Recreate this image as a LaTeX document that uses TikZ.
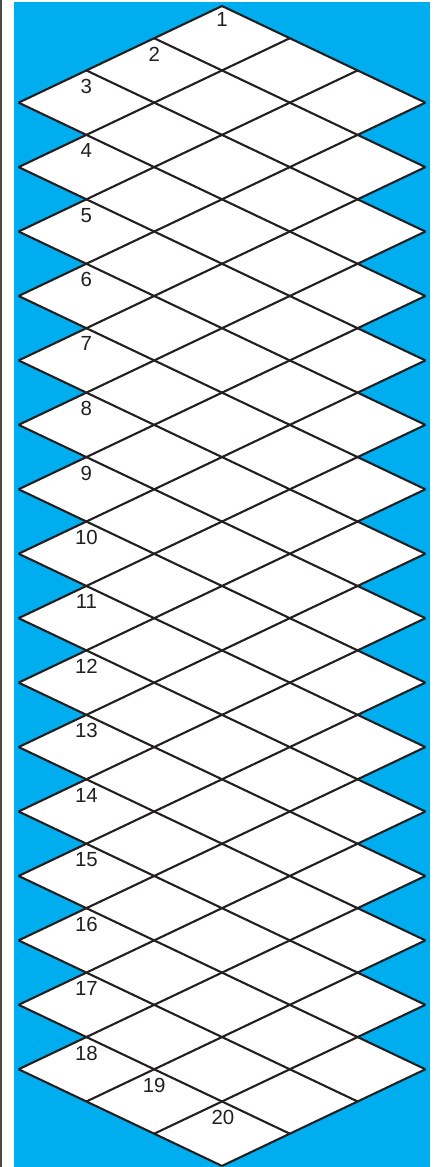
\documentclass[tikz,border=0pt]{standalone}
\usepackage{fontspec}
\setmainfont{Liberation Sans}
\definecolor{skyblue}{HTML}{00AEEF}
\definecolor{edgegray}{HTML}{4A4A4A}
\definecolor{inkblack}{HTML}{231F20}
\begin{document}
\begin{tikzpicture}[x=1bp,y=-1bp,
  gridline/.style={line width=2.1bp,draw=inkblack},
  lbl/.style={anchor=north,inner sep=0pt,text=inkblack,font=\fontsize{20.5}{20.5}\selectfont}]
\useasboundingbox (0,0) rectangle (436,1167);
\fill[white] (0,0) rectangle (436,1167);
\fill[edgegray] (0,0) rectangle (1.6,1167);
\fill[skyblue] (14,2) rectangle (430,1167);
% white body
\fill[white] (222,6) -- ({222+67.8*3},{6+32.22*3})
  \foreach \j in {0,...,14}{ -- ({222+67.8*2},{6+32.22*(4+2*\j)}) -- ({222+67.8*3},{6+32.22*(5+2*\j)}) }
  -- (222,{6+32.22*36}) -- ({222-67.8*3},{6+32.22*33})
  \foreach \j in {14,...,0}{ -- ({222-67.8*2},{6+32.22*(4+2*\j)}) -- ({222-67.8*3},{6+32.22*(3+2*\j)}) }
  -- cycle;
% lattice lines
\foreach \k in {0,...,18}{
  \pgfmathsetmacro\su{\k<=3 ? -\k : -3}
  \pgfmathsetmacro\sv{\k<=3 ? \k : 2*\k-3}
  \pgfmathsetmacro\eu{\k<=15 ? 3 : 18-\k}
  \pgfmathsetmacro\ev{\k<=15 ? 3+2*\k : 18+\k}
  \pgfmathsetmacro\sxr{222+67.8*\su}
  \pgfmathsetmacro\sxl{222-67.8*\su}
  \pgfmathsetmacro\sy{6+32.22*\sv}
  \pgfmathsetmacro\exr{222+67.8*\eu}
  \pgfmathsetmacro\exl{222-67.8*\eu}
  \pgfmathsetmacro\ey{6+32.22*\ev}
  \coordinate (drs\k) at (\sxr,\sy);
  \coordinate (dre\k) at (\exr,\ey);
  \coordinate (dls\k) at (\sxl,\sy);
  \coordinate (dle\k) at (\exl,\ey);
  \draw[gridline] (drs\k) -- (dre\k);
  \draw[gridline] (dls\k) -- (dle\k);
}
% labels
\node[lbl] (n1) at (222,12.5) {1};
\node[lbl] (n2) at ({222-67.8},{6+32.22+8.5}) {2};
\foreach \n in {3,...,18}{
  \pgfmathsetmacro\ly{6+32.22*(2+2*(\n-3))+8.5}
  \node[lbl] (n\n) at ({222-2*67.8},\ly) {\n};
}
\node[lbl] (n19) at ({222-67.8},{6+32.22*33+8.5}) {19};
\node[lbl] (n20) at ({222+1},{6+32.22*34+8.5}) {20};
\end{tikzpicture}
\end{document}
